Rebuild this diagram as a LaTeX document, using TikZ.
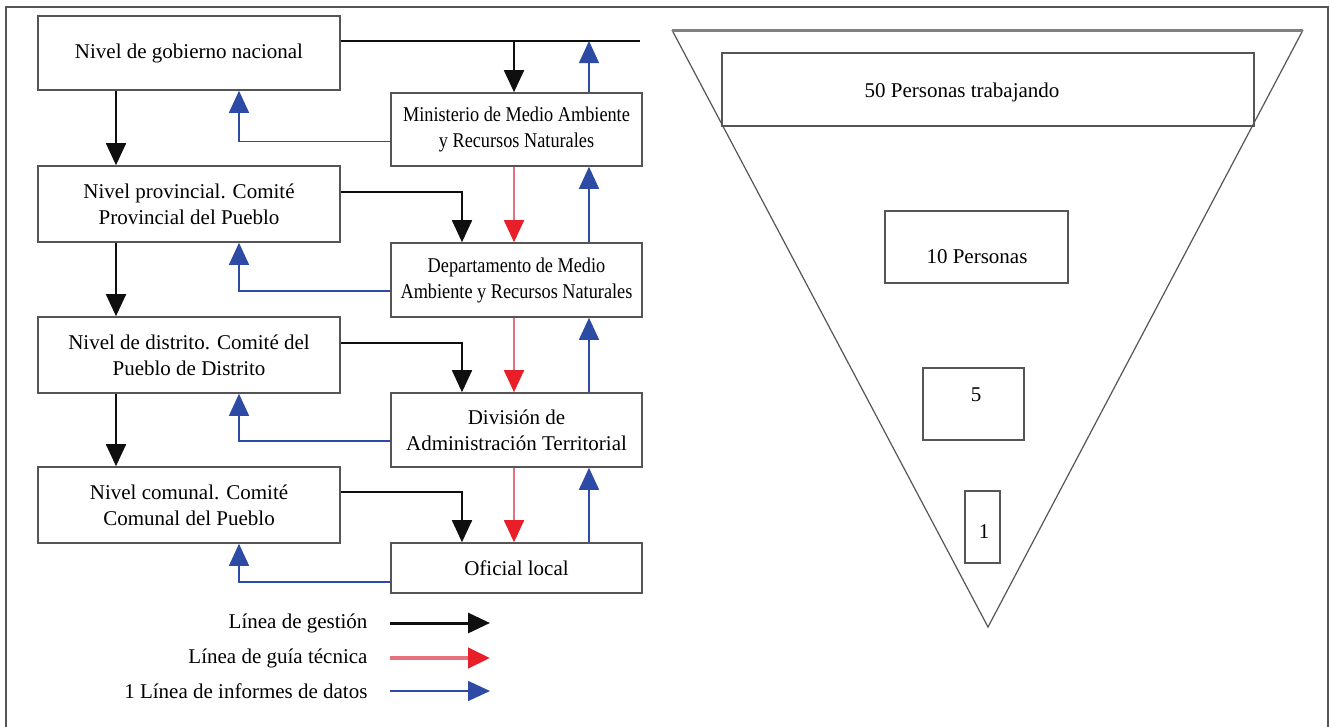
\documentclass[tikz,border=0pt]{standalone}
\usepackage{fontspec}
\setmainfont{Liberation Serif}
\newfontfamily\narrowserif{Liberation Serif}[FakeStretch=0.87]
\usetikzlibrary{arrows.meta}

\definecolor{mgmtblack}{RGB}{15,15,15}
\definecolor{guidered}{RGB}{232,30,40}
\definecolor{guidepink}{RGB}{228,115,125}
\definecolor{datablue}{RGB}{45,75,165}
\definecolor{boxgray}{RGB}{85,85,85}

\tikzset{
  levelbox/.style={draw=boxgray, line width=1.6pt, minimum width=302pt, minimum height=76pt, align=center, inner sep=0pt},
  unitbox/.style={draw=boxgray, line width=1.6pt, minimum width=251pt, minimum height=74pt, align=center, inner sep=0pt},
  peoplebox/.style={draw=boxgray, line width=1.4pt, inner sep=0pt},
  mgmt/.style={draw=mgmtblack, line width=1.8pt, -{Triangle[length=22pt,width=20pt]}},
  guide/.style={draw=guidepink, line width=1.8pt, -{Triangle[length=22pt,width=20pt,color=guidered]}},
  data/.style={draw=datablue, line width=1.4pt, -{Triangle[length=22pt,width=20pt]}},
}

\begin{document}
\begin{tikzpicture}[x=1pt, y=-1pt, font=\fontsize{21}{26}\selectfont]
    \useasboundingbox (0,0) rectangle (1330,726);
    \draw[boxgray, line width=1.3pt] (6,745) -- (6,7) -- (1328,7) -- (1328,745);

    \node[levelbox, minimum height=74pt] (ngn) at (189,53) {Nivel de gobierno nacional};
    \node[levelbox] (np) at (189,204) {Nivel provincial. Comité\\Provincial del Pueblo};
    \node[levelbox] (nd) at (189,355) {Nivel de distrito. Comité del\\Pueblo de Distrito};
    \node[levelbox] (nc) at (189,505) {Nivel comunal. Comité\\Comunal del Pueblo};

    \node[unitbox, minimum height=73pt, font=\narrowserif\fontsize{21}{26}\selectfont] (min) at (516.5,129.5) {Ministerio de Medio Ambiente\\y Recursos Naturales};
    \node[unitbox, font=\narrowserif\fontsize{21}{26}\selectfont] (dep) at (516.5,280) {Departamento de Medio\\Ambiente y Recursos Naturales};
    \node[unitbox] (div) at (516.5,430) {División de\\Administración Territorial};
    \node[unitbox, minimum height=50pt] (ofi) at (516.5,568) {Oficial local};

    \coordinate (kl) at (116,0);
    \coordinate (bl) at (239,0);
    \coordinate (kr) at (462,0);
    \coordinate (rr) at (514,0);
    \coordinate (br) at (589,0);
    \coordinate (topend) at (640,41);

    \draw[mgmtblack, line width=1.8pt] ([yshift=12pt]ngn.east) -- (topend);
    \draw[mgmt] (rr |- topend) -- (min.north -| rr);
    \draw[data] (min.north -| br) -- (br |- topend);

    \draw[mgmt] (ngn.south -| kl) -- (np.north -| kl);
    \draw[mgmt] (np.south -| kl) -- (nd.north -| kl);
    \draw[mgmt] (nd.south -| kl) -- (nc.north -| kl);

    \draw[data] ([yshift=-12pt]min.west) -| (ngn.south -| bl);
    \draw[data] ([yshift=-11pt]dep.west) -| (np.south -| bl);
    \draw[data] ([yshift=-11pt]div.west) -| (nd.south -| bl);
    \draw[data] ([yshift=-14pt]ofi.west) -| (nc.south -| bl);

    \draw[mgmt] ([yshift=12pt]np.east) -| (dep.north -| kr);
    \draw[mgmt] ([yshift=12pt]nd.east) -| (div.north -| kr);
    \draw[mgmt] ([yshift=13pt]nc.east) -| (ofi.north -| kr);

    \draw[guide] (min.south -| rr) -- (dep.north -| rr);
    \draw[guide] (dep.south -| rr) -- (div.north -| rr);
    \draw[guide] (div.south -| rr) -- (ofi.north -| rr);

    \draw[data] (dep.north -| br) -- (min.south -| br);
    \draw[data] (div.north -| br) -- (dep.south -| br);
    \draw[data] (ofi.north -| br) -- (div.south -| br);

    \node[anchor=east] (lgmgmt) at (371,623) {Línea de gestión};
    \node[anchor=east] (lgguide) at (371,658) {Línea de guía técnica};
    \node[anchor=east] (lgdata) at (371,691) {1 Línea de informes de datos};
    \draw[mgmt, line width=3pt] ([xshift=19pt]lgmgmt.east) -- ++(100,0);
    \draw[guide, line width=4.5pt] ([xshift=19pt]lgguide.east) -- ++(100,0);
    \draw[data, line width=1.6pt] ([xshift=19pt]lgdata.east) -- ++(100,0);

    \coordinate (tl) at (672,30);
    \coordinate (tr) at (1303,30);
    \coordinate (tip) at (988,627);
    \draw[boxgray, line width=1.2pt] (tl) -- (tip) -- (tr);
    \draw[gray, line width=3pt] (tl) -- (tr);

    \node[peoplebox, minimum width=532pt, minimum height=73pt] (p50) at (988,89.5) {};
    \node (t50) at (962,92) {50 Personas trabajando};
    \node[peoplebox, minimum width=183pt, minimum height=72pt] (p10) at (976.5,247) {};
    \node (t10) at (977,257) {10 Personas};
    \node[peoplebox, minimum width=101pt, minimum height=72pt] (p5) at (973.5,404) {};
    \node (t5) at (976,395) {5};
    \node[peoplebox, minimum width=35pt, minimum height=72pt] (p1) at (982.5,527) {};
    \node (t1) at (984,532) {1};
\end{tikzpicture}
\end{document}
